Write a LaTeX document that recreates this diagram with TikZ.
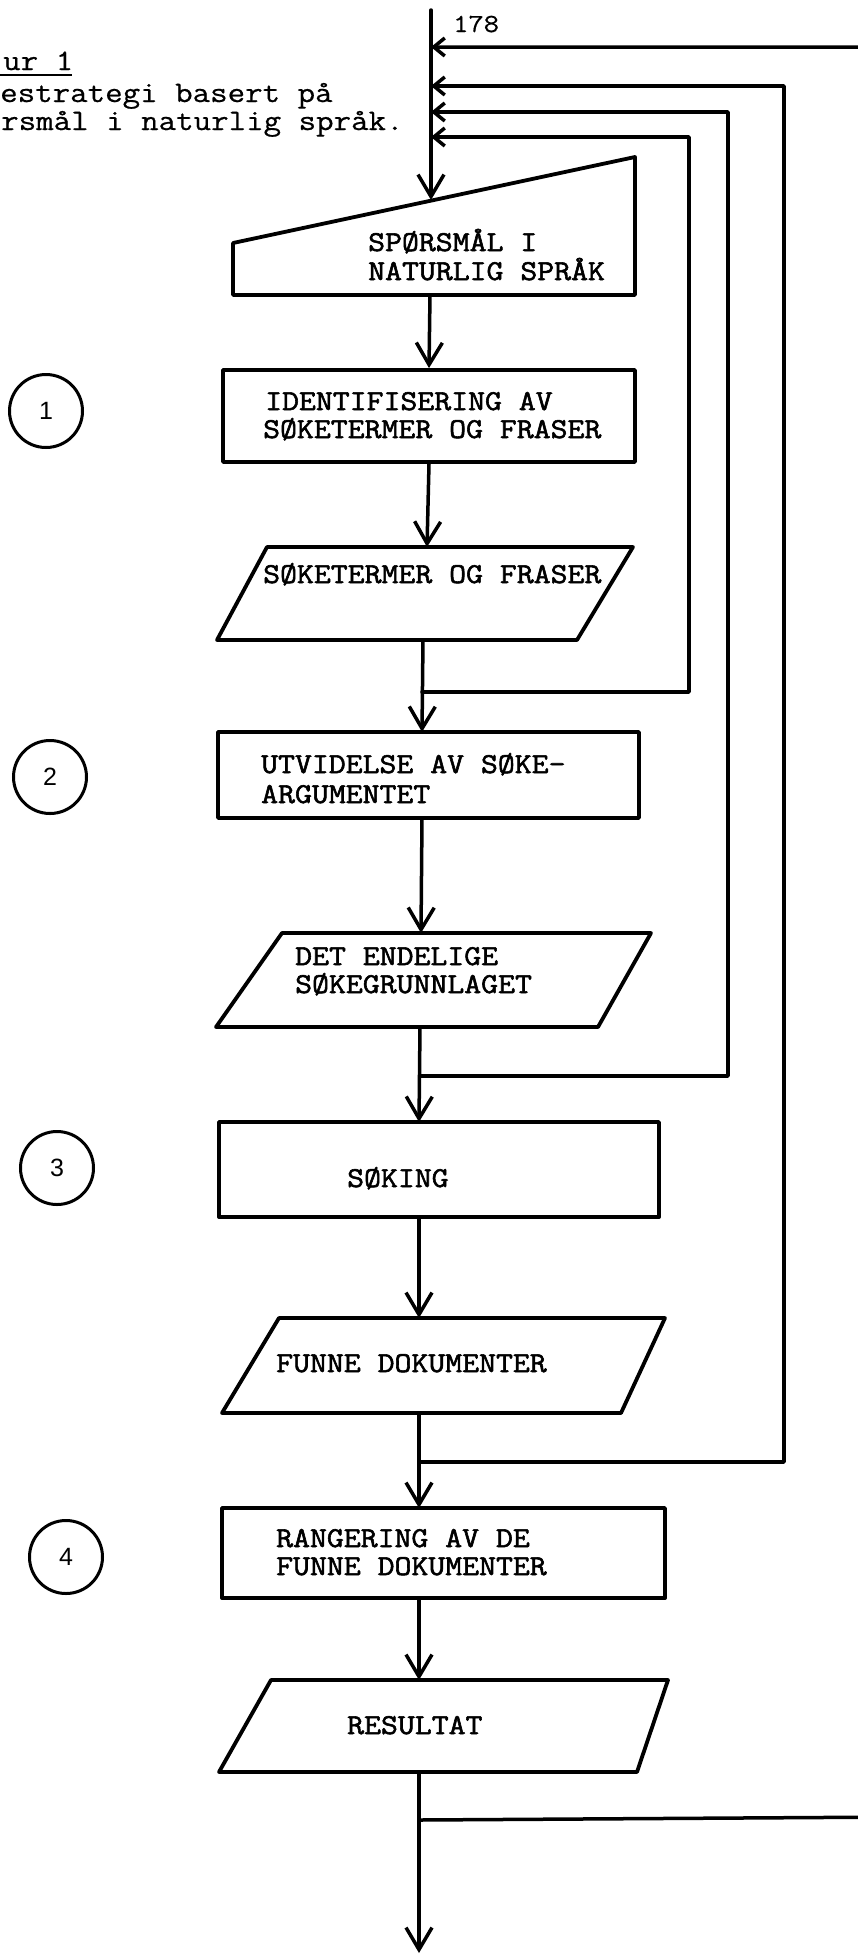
\documentclass[tikz,border=0pt]{standalone}
\usepackage{fontspec}
\setmainfont{Liberation Serif}
\newfontfamily\tw{Latin Modern Mono}[FakeStretch=1.14,FakeBold=0.6]
\newfontfamily\twb{Latin Modern Mono}[FakeStretch=1.14,FakeBold=2]
\newfontfamily\numf{Liberation Sans}
\usetikzlibrary{arrows.meta,calc}
\begin{document}
\begin{tikzpicture}[x=1pt,y=-1pt,
  line/.style={line width=3.5pt, line join=round, line cap=round},
  shapebox/.style={draw, line width=3.8pt, line join=round},
  arr/.style={line, -{Straight Barb[length=22pt,width=26pt]}},
  sarr/.style={line, -{Straight Barb[length=11pt,width=18pt]}},
  boxtext/.style={font=\twb\fontsize{28.8}{30}\selectfont, anchor=base west, inner sep=0pt},
  titletext/.style={font=\tw\fontsize{29.8}{31}\selectfont, anchor=base west, inner sep=0pt},
  stepcircle/.style={circle, draw, line width=3pt, minimum size=73pt, inner sep=0pt, font=\numf\fontsize{25}{25}\selectfont},
]
\useasboundingbox (0,0) rectangle (858,1955);
\clip (0,0) rectangle (858,1955);

% title fragments
\node[titletext] (ti1) at (3,70) {ur 1};
\draw[line width=1.8pt] (0,75) -- (72,75);
\node[titletext] (ti2) at (0,102) {estrategi basert på};
\node[titletext] (ti3) at (1,130) {rsmål i naturlig språk.};
\node[font=\tw\fontsize{26}{28}\selectfont, anchor=base west, inner sep=0pt] (pg) at (453,32) {178};

% step circles
\node[stepcircle] (c1) at (46,411) {1};
\node[stepcircle] (c2) at (50,777) {2};
\node[stepcircle] (c3) at (57,1168) {3};
\node[stepcircle] (c4) at (66,1557) {4};

% manual input: question
\coordinate (q1) at (233,243);
\coordinate (q2) at (635,157);
\coordinate (q3) at (635,295);
\coordinate (q4) at (233,295);
\draw[shapebox] (q1) -- (q2) -- (q3) -- (q4) -- cycle;
\node[boxtext] (qt1) at (368,251) {SPØRSMÅL I};
\node[boxtext] (qt2) at (368,280) {NATURLIG SPRÅK};
\coordinate (qin) at (431,200);
\coordinate (qout) at (430,295);

% box 1
\node[shapebox, minimum width=412pt, minimum height=92pt, inner sep=0pt] (r1) at (429,416) {};
\node[boxtext] (r1a) at (265,410) {IDENTIFISERING AV};
\node[boxtext] (r1b) at (263,438) {SØKETERMER OG FRASER};

% parallelogram 1
\coordinate (p1a) at (267,547);
\coordinate (p1b) at (633,547);
\coordinate (p1c) at (577,640);
\coordinate (p1d) at (217,640);
\draw[shapebox] (p1a) -- (p1b) -- (p1c) -- (p1d) -- cycle;
\node[boxtext] (p1t) at (263,583) {SØKETERMER OG FRASER};
\coordinate (p1in) at (427,547);
\coordinate (p1out) at (423,640);

% box 2
\node[shapebox, minimum width=421pt, minimum height=86pt, inner sep=0pt] (r2) at (428.5,775) {};
\node[boxtext] (r2a) at (261,773) {UTVIDELSE AV SØKE-};
\node[boxtext] (r2b) at (261,803) {ARGUMENTET};
\coordinate (r2in) at (422,732);
\coordinate (r2out) at (422,818);

% parallelogram 2
\coordinate (p2a) at (282,933);
\coordinate (p2b) at (651,933);
\coordinate (p2c) at (598,1027);
\coordinate (p2d) at (216,1027);
\draw[shapebox] (p2a) -- (p2b) -- (p2c) -- (p2d) -- cycle;
\node[boxtext] (p2t1) at (295,965) {DET ENDELIGE};
\node[boxtext] (p2t2) at (295,993) {SØKEGRUNNLAGET};
\coordinate (p2in) at (421,933);
\coordinate (p2out) at (420,1027);

% box 3
\node[shapebox, minimum width=440pt, minimum height=95pt, inner sep=0pt] (r3) at (439,1169.5) {};
\node[boxtext] (r3a) at (347,1187) {SØKING};
\coordinate (r3in) at (419,1122);
\coordinate (r3out) at (419,1217);

% parallelogram 3
\coordinate (p3a) at (279,1318);
\coordinate (p3b) at (665,1318);
\coordinate (p3c) at (621,1413);
\coordinate (p3d) at (222,1413);
\draw[shapebox] (p3a) -- (p3b) -- (p3c) -- (p3d) -- cycle;
\node[boxtext] (p3t) at (276,1372) {FUNNE DOKUMENTER};
\coordinate (p3in) at (419,1318);
\coordinate (p3out) at (419,1413);

% box 4
\node[shapebox, minimum width=443pt, minimum height=90pt, inner sep=0pt] (r4) at (443.5,1553) {};
\node[boxtext] (r4a) at (276,1547) {RANGERING AV DE};
\node[boxtext] (r4b) at (276,1575) {FUNNE DOKUMENTER};
\coordinate (r4in) at (419,1508);
\coordinate (r4out) at (419,1598);

% parallelogram 4
\coordinate (p4a) at (271,1680);
\coordinate (p4b) at (668,1680);
\coordinate (p4c) at (637,1772);
\coordinate (p4d) at (219,1772);
\draw[shapebox] (p4a) -- (p4b) -- (p4c) -- (p4d) -- cycle;
\node[boxtext] (p4t) at (347,1734) {RESULTAT};
\coordinate (p4in) at (419,1680);
\coordinate (p4out) at (419,1772);

% main flow
\coordinate (top) at (431,10);
\coordinate (endp) at (419,1953);
\draw[arr] (top) -- (qin);
\draw[arr] (qout) -- (r1.north);
\draw[arr] (r1.south) -- (p1in);
\draw[arr] (p1out) -- (r2in);
\draw[arr] (r2out) -- (p2in);
\draw[arr] (p2out) -- (r3in);
\draw[arr] (r3out) -- (p3in);
\draw[arr] (p3out) -- (r4in);
\draw[arr] (r4out) -- (p4in);
\draw[arr] (p4out) -- (endp);

% junctions on the main flow
\coordinate (j4) at (422,692);
\coordinate (j3) at (420,1076);
\coordinate (j2) at (419,1462);
\coordinate (j1) at (419,1820);
% entry points at the top
\coordinate (m1) at (431,47);
\coordinate (m2) at (431,86);
\coordinate (m3) at (431,112);
\coordinate (m4) at (431,137);
% corners of the loops
\coordinate (k4) at (689,137);
\coordinate (k3) at (728,112);
\coordinate (k2) at (784,86);
\coordinate (k1b) at (900,1817);
\coordinate (k1t) at (900,47);

\draw[sarr] (j4) -| (k4) -- (m4);
\draw[sarr] (j3) -| (k3) -- (m3);
\draw[sarr] (j2) -| (k2) -- (m2);
\draw[sarr] (j1) -- (k1b) -- (k1t) -- (m1);
\end{tikzpicture}
\end{document}
